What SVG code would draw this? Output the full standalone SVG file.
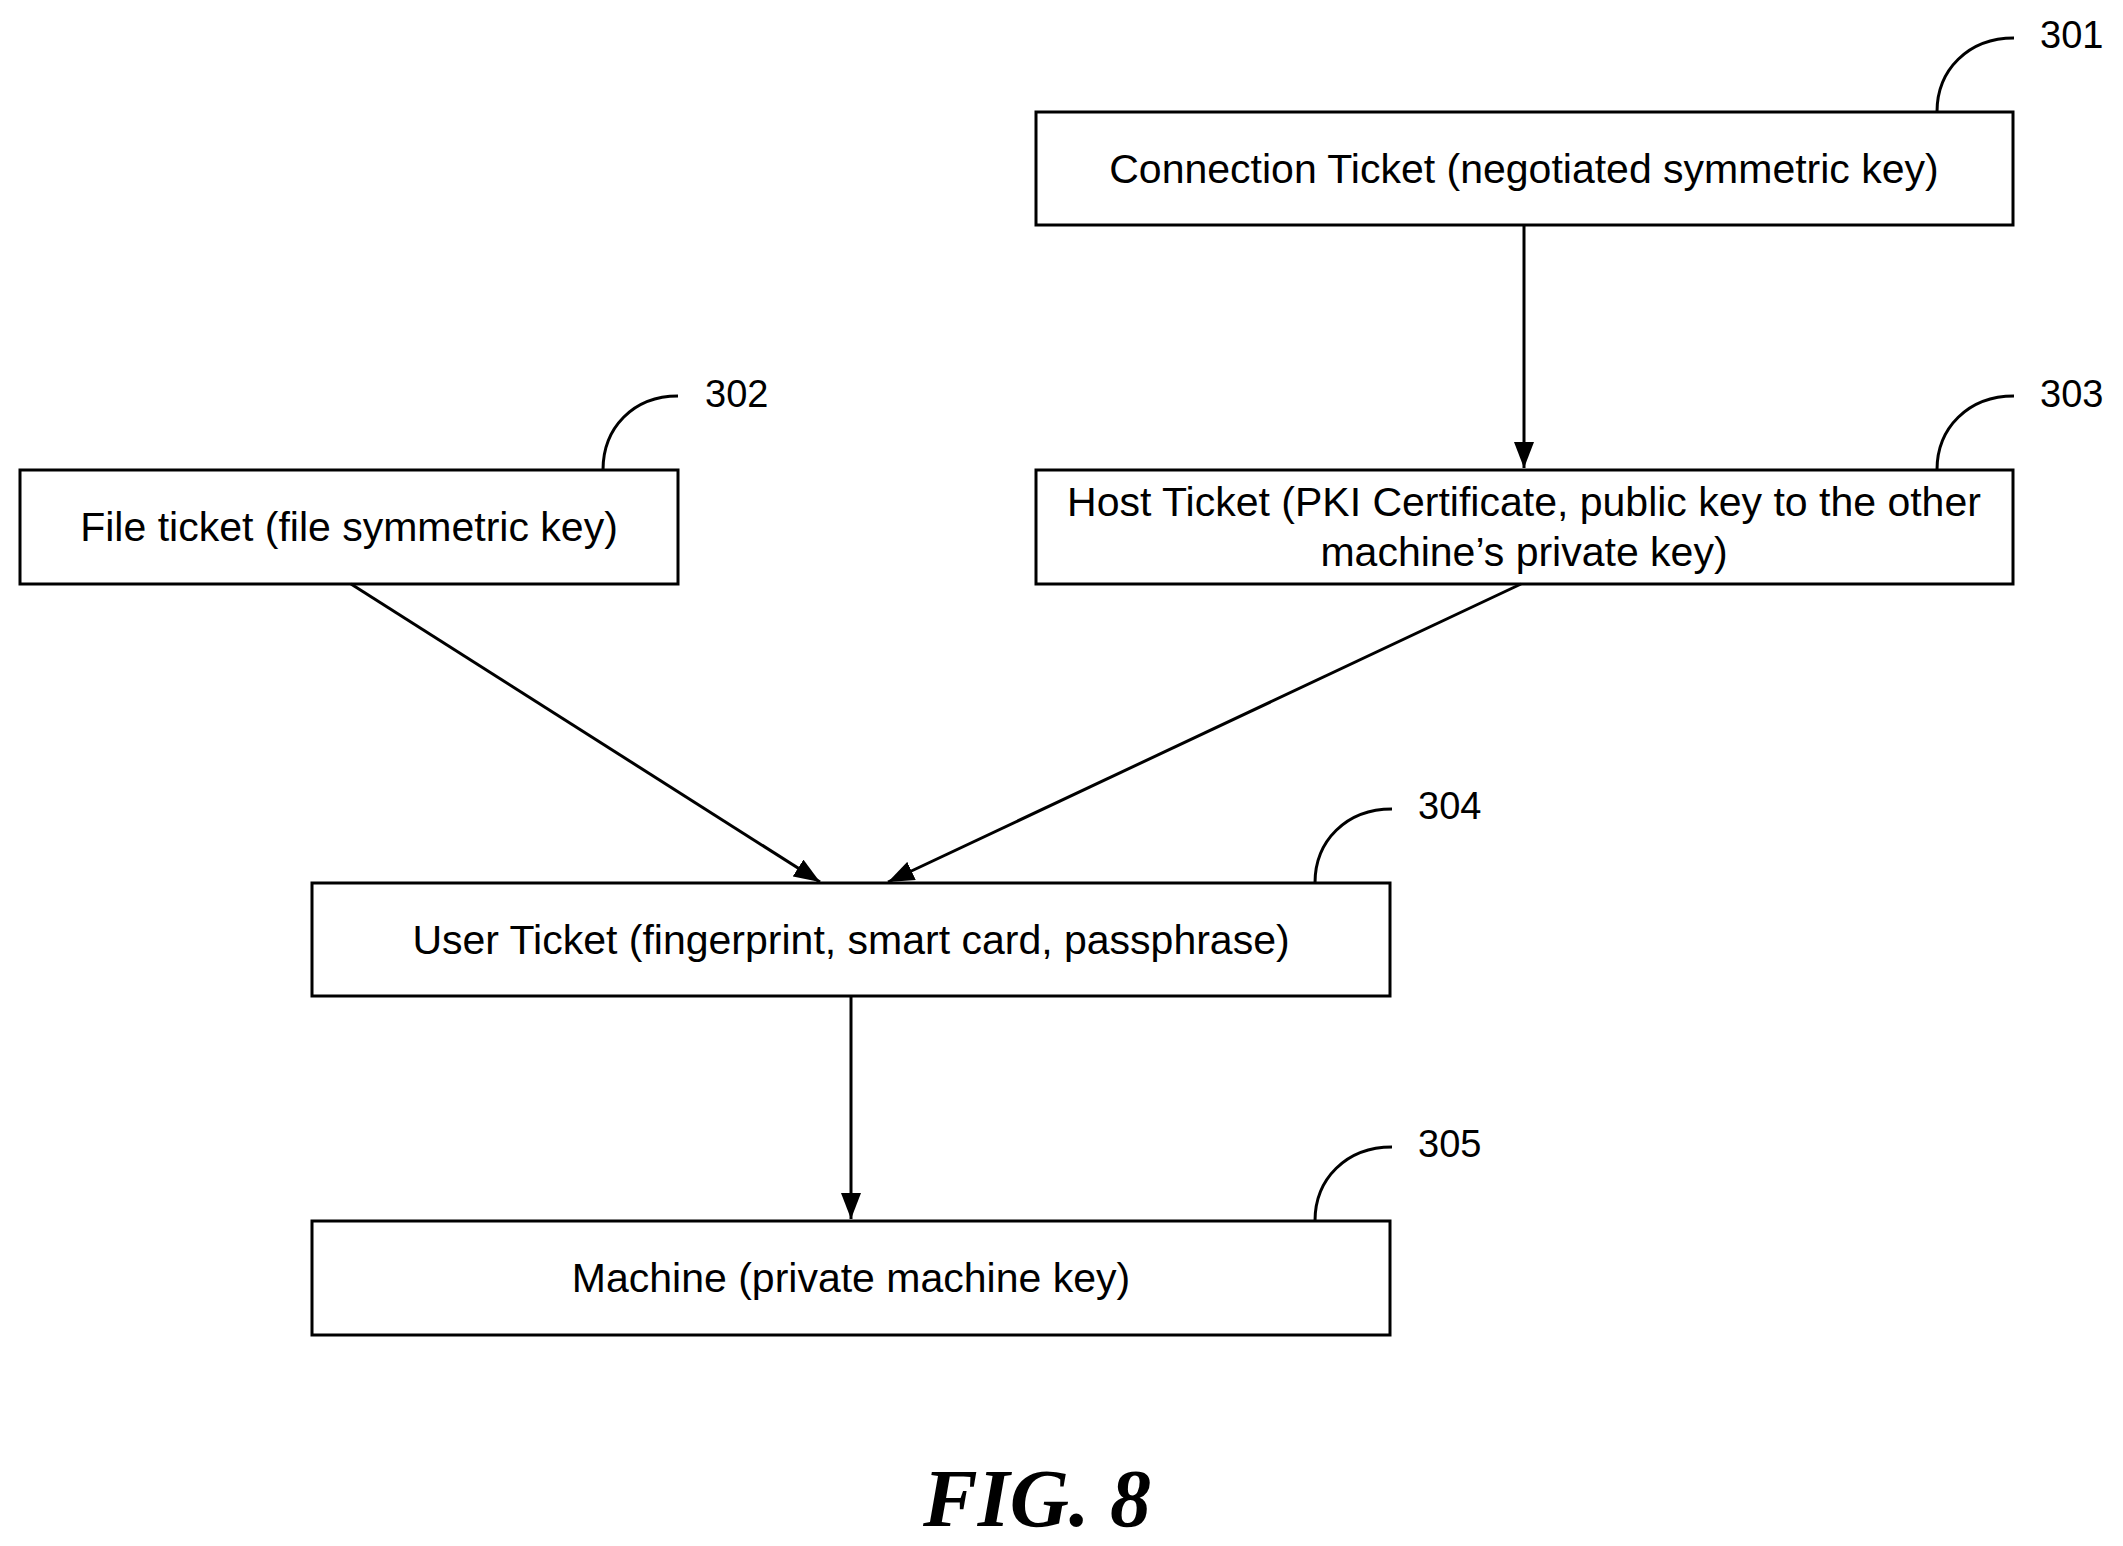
<svg xmlns="http://www.w3.org/2000/svg" width="2123" height="1546" viewBox="0 0 2123 1546">
<style>
.b{fill:#fff;stroke:#000;stroke-width:3}
.t{font-family:"Liberation Sans",Arial,sans-serif;font-size:41px;text-anchor:middle;fill:#000}
.n{font-family:"Liberation Sans",Arial,sans-serif;font-size:38px;fill:#000}
.l{fill:none;stroke:#000;stroke-width:3}
</style>
<defs><marker id="a2" markerWidth="26" markerHeight="20" refX="26" refY="10" orient="auto" markerUnits="userSpaceOnUse"><path d="M0,0L26,10L0,20z" fill="#000"/></marker></defs>
<rect width="2123" height="1546" fill="#fff"/>
<g id="n301"><rect class="b" x="1036" y="112" width="977" height="113"/><text class="t" x="1524" y="183">Connection Ticket (negotiated symmetric key)</text><path class="l" d="M1937,112C1937,70 1968,38 2014,38"/><text class="n" x="2040" y="48">301</text></g>
<g id="n302"><rect class="b" x="20" y="470" width="658" height="114"/><text class="t" x="349" y="541">File ticket (file symmetric key)</text><path class="l" d="M603,470C603,428 633,396 678,396"/><text class="n" x="705" y="407">302</text></g>
<g id="n303"><rect class="b" x="1036" y="470" width="977" height="114"/><text class="t" x="1524" y="516">Host Ticket (PKI Certificate, public key to the other</text><text class="t" x="1524" y="566">machine’s private key)</text><path class="l" d="M1937,470C1937,428 1968,396 2014,396"/><text class="n" x="2040" y="407">303</text></g>
<g id="n304"><rect class="b" x="312" y="883" width="1078" height="113"/><text class="t" x="851" y="954">User Ticket (fingerprint, smart card, passphrase)</text><path class="l" d="M1315,883C1315,841 1346,809 1392,809"/><text class="n" x="1418" y="819">304</text></g>
<g id="n305"><rect class="b" x="312" y="1221" width="1078" height="114"/><text class="t" x="851" y="1292">Machine (private machine key)</text><path class="l" d="M1315,1221C1315,1179 1346,1147 1392,1147"/><text class="n" x="1418" y="1157">305</text></g>
<g id="connectors">
<line x1="1524" y1="225" x2="1524" y2="468" stroke="#000" stroke-width="3" marker-end="url(#a2)"/>
<line x1="351" y1="584" x2="820" y2="882" stroke="#000" stroke-width="3" marker-end="url(#a2)"/>
<line x1="1521" y1="584" x2="888" y2="882" stroke="#000" stroke-width="3" marker-end="url(#a2)"/>
<line x1="851" y1="996" x2="851" y2="1219" stroke="#000" stroke-width="3" marker-end="url(#a2)"/>
</g>
<text x="1037" y="1526" font-family="'Liberation Serif','Times New Roman',serif" font-size="82" font-weight="bold" font-style="italic" text-anchor="middle">FIG. 8</text>
</svg>
